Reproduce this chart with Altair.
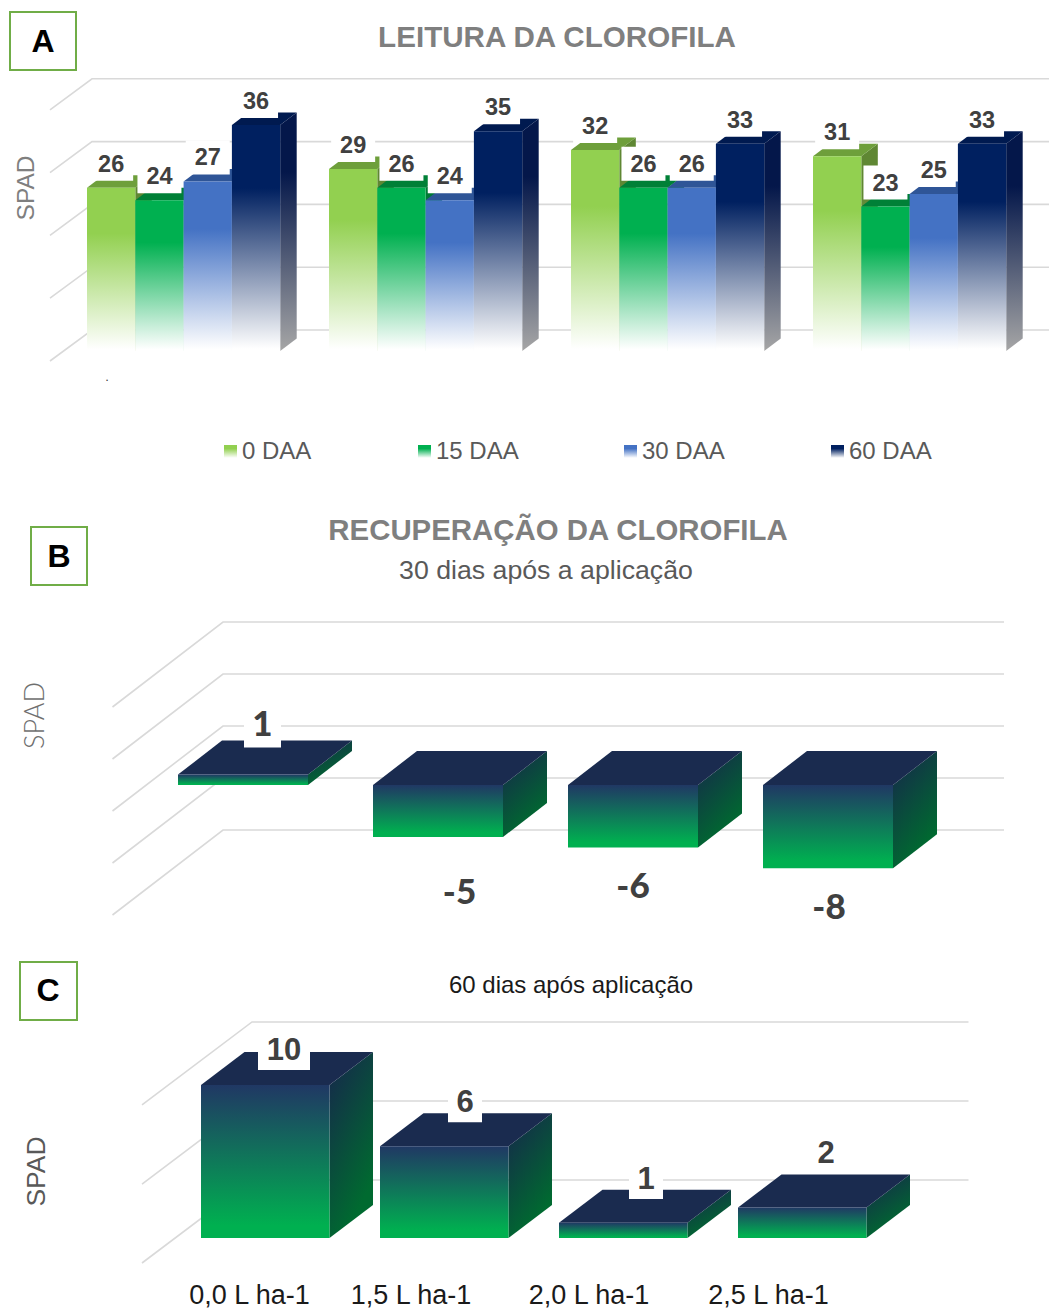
import altair as alt
import pandas as pd

# ---- values -------------------------------------------------------------
SERIES_A = ["0 DAA", "15 DAA", "30 DAA", "60 DAA"]
VALUES_0_DAA = [26, 29, 32, 31]
VALUES_15_DAA = [24, 26, 26, 23]
VALUES_30_DAA = [27, 24, 26, 25]
VALUES_60_DAA = [36, 35, 33, 33]

VALUES_B = [1, -5, -6, -8]
VALUES_C = [10, 6, 1, 2]
DOSES_C = ["0,0 L ha-1", "1,5 L ha-1", "2,0 L ha-1", "2,5 L ha-1"]

GRID_A = [0, 10, 20, 30, 40]
GRID_B = [-10, -5, 0, 5, 10]
GRID_C = [0, 5.16, 10.33]

# ---- look ---------------------------------------------------------------
FONT = "Liberation Sans"
GRID_COLOR = "#D9D9D9"
LABEL_COLOR = "#404040"
W = 1049
H = 1310

COLORS_A = {
    "front": ["#92D050", "#00B050", "#4472C4", "#002060"],
    "top": ["#6E9F3B", "#008037", "#2F5597", "#001A50"],
    "side": ["#5F8733", "#007A35", "#2A4C87", "#04174A"],
    "side_end": ["#C8DDA8", "#A8DCC0", "#B4C4E2", "#A6A6A6"],
}
DARK_TOP = "#1A2B4F"


def gradient(stops, x2=0, y2=1):
    return alt.LinearGradient(
        gradient="linear",
        stops=[alt.GradientStop(color=c, offset=o) for c, o in stops],
        x1=0, y1=0, x2=x2, y2=y2,
    )


def fade(color):
    return gradient([(color, 0), (color, 0.28), ("#FFFFFF", 0.99)])


GREEN_FRONT = gradient([("#203864", 0), ("#00B050", 0.92), ("#00B050", 1)])
GREEN_SIDE = gradient([("#15294B", 0.05), ("#006A30", 0.95)], x2=0.45, y2=1)


class Panel:
    """One 3D bar panel with its own slot and SPAD scales on the shared canvas."""

    def __init__(self, slot_start, slot_step, zero_y, unit_y, depth_x, depth_y):
        self.start = slot_start
        self.step = slot_step
        self.unit = unit_y
        self.dx = depth_x / slot_step
        self.dy = depth_y / unit_y
        self.x_scale = alt.Scale(
            domain=[-slot_start / slot_step, (W - slot_start) / slot_step],
            range=[0, W], nice=False, zero=False,
        )
        self.y_scale = alt.Scale(
            domain=[(zero_y - H) / unit_y, zero_y / unit_y],
            range=[H, 0], nice=False, zero=False,
        )

    def X(self, field="x"):
        return alt.X(f"{field}:Q", scale=self.x_scale, axis=None)

    def Y(self, field="y"):
        return alt.Y(f"{field}:Q", scale=self.y_scale, axis=None, stack=None)

    def slot(self, px):
        return px / self.step

    def val(self, px):
        return px / self.unit

    def grid(self, levels, right_px, back_px, front_px, back_shift, front_shift):
        rows = []
        for lv in levels:
            rows.append(dict(level=lv, x=self.slot(front_px - self.start), y=lv + self.val(front_shift)))
            rows.append(dict(level=lv, x=self.slot(back_px - self.start), y=lv + self.val(back_shift)))
            rows.append(dict(level=lv, x=self.slot(right_px - self.start), y=lv + self.val(back_shift)))
        return (
            alt.Chart(pd.DataFrame(rows))
            .mark_line(color=GRID_COLOR, strokeWidth=1.6)
            .encode(x=self.X(), y=self.Y(), detail="level:N")
        )

    def bars(self, lefts, values, width, front_fill, top_fill, side_fill):
        """Side, top and front faces of a group of boxes, painted in that order."""
        front, top, side = [], [], []
        for i, (left, v) in enumerate(zip(lefts, values)):
            hi, lo = max(v, 0), min(v, 0)
            right = left + width
            front.append(dict(x=left, x1=right, y=hi, y1=lo))
            for x, y, y1 in [
                (left, hi, hi),
                (left + self.dx, hi + self.dy, hi),
                (right, hi + self.dy, hi),
                (right + self.dx, hi + self.dy, hi + self.dy),
            ]:
                top.append(dict(bar=i, x=x, y=y, y1=y1))
            side.append(dict(bar=i, x=right, y=hi, y1=lo))
            side.append(dict(bar=i, x=right + self.dx, y=hi + self.dy, y1=lo + self.dy))
        return [
            alt.Chart(pd.DataFrame(side))
            .mark_area(fill=side_fill, opacity=1)
            .encode(x=self.X(), y=self.Y(), y2="y1:Q", detail="bar:N"),
            alt.Chart(pd.DataFrame(top))
            .mark_area(fill=top_fill, opacity=1)
            .encode(x=self.X(), y=self.Y(), y2="y1:Q", detail="bar:N"),
            alt.Chart(pd.DataFrame(front))
            .mark_rect(fill=front_fill, opacity=1)
            .encode(x=self.X(), x2="x1:Q", y=self.Y(), y2="y1:Q"),
        ]

    def labels(self, xs, ys, texts, box_w, box_h, font, size, weight="bold", boxed=None, text_dy=0):
        """Value labels sitting on white plates that interrupt whatever lies below."""
        rows = []
        for k, (x, y, t) in enumerate(zip(xs, ys, texts)):
            rows.append(
                dict(
                    x=x, y=y, t=t, on=True if boxed is None else boxed[k],
                    bx0=x - self.slot(box_w(t) / 2), bx1=x + self.slot(box_w(t) / 2),
                    by0=y - self.val(box_h / 2), by1=y + self.val(box_h / 2),
                )
            )
        df = pd.DataFrame(rows)
        plates = (
            alt.Chart(df[df["on"]])
            .mark_rect(fill="#FFFFFF", opacity=1)
            .encode(x=self.X("bx0"), x2="bx1:Q", y=self.Y("by0"), y2="by1:Q")
        )
        text = (
            alt.Chart(df)
            .mark_text(font=font, fontSize=size, fontWeight=weight, color=LABEL_COLOR,
                       baseline="middle", dy=text_dy)
            .encode(x=self.X(), y=self.Y(), text="t:N")
        )
        return [plates, text]


def note(text, x, y, size, color="#595959", weight="normal", font=FONT, angle=0, align="center"):
    return (
        alt.Chart(pd.DataFrame({"t": [text]}))
        .mark_text(font=font, fontSize=size, fontWeight=weight, color=color, angle=angle,
                   align=align, baseline="middle")
        .encode(x=alt.value(x), y=alt.value(y + 1), text="t:N")
    )


def letter_box(text, x0, x1, y0, y1, cx, cy):
    box = (
        alt.Chart(pd.DataFrame({"t": [text]}))
        .mark_rect(fill="#FFFFFF", stroke="#70AD47", strokeWidth=2)
        .encode(x=alt.value(x0), x2=alt.value(x1), y=alt.value(y0), y2=alt.value(y1))
    )
    return [box, note(text, cx, cy, 32, color="#000000", weight="bold")]


def swatch(color, x0, x1, y0, y1):
    return (
        alt.Chart(pd.DataFrame({"t": [0]}))
        .mark_rect(fill=fade(color))
        .encode(x=alt.value(x0), x2=alt.value(x1), y=alt.value(y0), y2=alt.value(y1))
    )


layers = []

# ---- panel A: clustered boxes by evaluation date ------------------------
pa = Panel(87, 242, 351, 6.28, 16.5, 12.5)
series_values = [VALUES_0_DAA, VALUES_15_DAA, VALUES_30_DAA, VALUES_60_DAA]
bar_w = pa.slot(48.3)
layers.append(pa.grid(GRID_A, 1049, 92, 50, 21, -10))
for s, vals in enumerate(series_values):
    lefts = [g + s * bar_w for g in range(4)]
    side = gradient([(COLORS_A["side"][s], 0), (COLORS_A["side"][s], 0.25), (COLORS_A["side_end"][s], 1)])
    layers += pa.bars(lefts, vals, bar_w, fade(COLORS_A["front"][s]), COLORS_A["top"][s], side)

xs_a, ys_a, ts_a = [], [], []
for s, vals in enumerate(series_values):
    for g, v in enumerate(vals):
        xs_a.append(g + s * bar_w + bar_w / 2)
        ys_a.append(v + pa.val(24))
        ts_a.append(str(v))
layers += pa.labels(xs_a, ys_a, ts_a, lambda t: 44, 34, FONT, 23.5, text_dy=1)

layers += letter_box("A", 10, 76, 12, 70, 43, 41)
layers += [
    note("LEITURA DA CLOROFILA", 557, 37, 29.6, color="#7F7F7F", weight="bold"),
    note("SPAD", 27, 187, 24.5, color="#7F7F7F", angle=270),
    note(".", 107, 376, 13, color="#404040"),
]
legend_slots = [(224, 242), (418, 436), (624, 642), (831, 849)]
for (sx, tx), name, col in zip(legend_slots, SERIES_A, COLORS_A["front"]):
    layers.append(swatch(col, sx, sx + 13, 445, 458))
    layers.append(note(name, tx, 451, 24, align="left"))

# ---- panel B: recovery after 30 days ------------------------------------
pb = Panel(178, 195, 785, 10.4, 44, 34)
slots_b = [0, 1, 2, 3]
layers.append(pb.grid(GRID_B, 1004, 223, 112.5, 59, -26))
layers += pb.bars(slots_b, VALUES_B, pb.slot(130), GREEN_FRONT, DARK_TOP, GREEN_SIDE)
shift_x_b = [84.5, 86.5, 65, 66]
shift_y_b = [49.6, -56, -40, -40]
layers += pb.labels(
    [i + pb.slot(d) for i, d in zip(slots_b, shift_x_b)],
    [v + pb.val(d) for v, d in zip(VALUES_B, shift_y_b)],
    [str(v) for v in VALUES_B],
    lambda t: 37, 45, "Lato", 35, weight=900, boxed=[v > 0 for v in VALUES_B],
)
layers += letter_box("B", 31, 87, 527, 585, 59, 556)
layers += [
    note("RECUPERAÇÃO DA CLOROFILA", 558, 530, 29.4, color="#7F7F7F", weight="bold"),
    note("30 dias após a aplicação", 546, 570, 26.7),
    note("SPAD", 36, 714.5, 27, color="#6F6F6F", angle=270, font="Lato", weight=300),
]

# ---- panel C: recovery after 60 days, by dose ---------------------------
pc = Panel(201, 179, 1238, 15.3, 43.5, 33)
slots_c = [0, 1, 2, 3]
layers.append(pc.grid(GRID_C, 968.5, 252, 142, 58, -25))
layers += pc.bars(slots_c, VALUES_C, pc.slot(128.5), GREEN_FRONT, DARK_TOP, GREEN_SIDE)
shift_x_c = [83, 85, 87, 88]
shift_y_c = [36, 45, 44.7, 55.4]
layers += pc.labels(
    [i + pc.slot(d) for i, d in zip(slots_c, shift_x_c)],
    [v + pc.val(d) for v, d in zip(VALUES_C, shift_y_c)],
    [str(v) for v in VALUES_C],
    lambda t: 34 if len(t) == 1 else 52, 42, FONT, 31, text_dy=2,
)
cat_shift_c = [48.5, 31, 30, 30.5]
cat_df = pd.DataFrame(
    {
        "x": [i + pc.slot(d) for i, d in zip(slots_c, cat_shift_c)],
        "y": [pc.val(1238 - 1295.5)] * 4,
        "t": DOSES_C,
    }
)
layers.append(
    alt.Chart(cat_df)
    .mark_text(font=FONT, fontSize=27, color="#1A1A1A", baseline="middle")
    .encode(x=pc.X(), y=pc.Y(), text="t:N")
)
layers += letter_box("C", 20, 77, 962, 1020, 48, 990)
layers += [
    note("60 dias após aplicação", 571, 985, 24, color="#1A1A1A"),
    note("SPAD", 37, 1170.5, 26.5, color="#595959", angle=270),
]

chart = (
    alt.layer(*layers)
    .resolve_scale(x="independent", y="independent")
    .properties(
        width=W, height=H, padding=0, background="#FFFFFF",
        autosize=alt.AutoSizeParams(type="fit", contains="padding"),
    )
    .configure_view(strokeWidth=0)
)

chart.save("out.html", embed_options={"renderer": "svg", "actions": False})
